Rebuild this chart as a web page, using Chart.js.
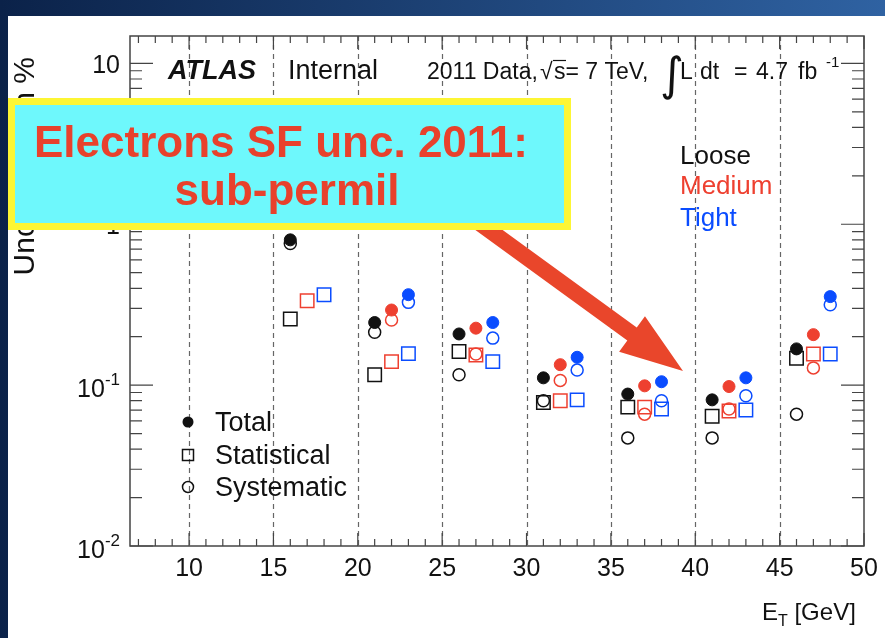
<!DOCTYPE html>
<html><head><meta charset="utf-8">
<script src="https://cdn.jsdelivr.net/npm/chart.js@4/dist/chart.umd.min.js"></script>
<style>
html,body{margin:0;padding:0;background:#fff}
canvas{display:block}
</style></head><body>
<canvas id="c" width="885" height="638"></canvas>
<script>
// ET bin centres, shifted by 1 GeV per menu so the markers do not overlap
const etLoose  = [16, 21, 26, 31, 36, 41, 46]
const etMedium = [17, 22, 27, 32, 37, 42, 47]
const etTight  = [18, 23, 28, 33, 38, 43, 48]

// uncertainties in % (15-20 GeV medium/tight total+syst are hidden under the box)
const looseTotal  = [0.80, 0.245, 0.208, 0.111, 0.088, 0.081, 0.168]
const looseStat   = [0.258, 0.116, 0.162, 0.078, 0.073, 0.064, 0.147]
const looseSyst   = [0.76, 0.213, 0.116, 0.080, 0.047, 0.047, 0.066]
const mediumTotal = [null, 0.293, 0.226, 0.134, 0.099, 0.098, 0.206]
const mediumStat  = [0.335, 0.140, 0.154, 0.080, 0.073, 0.069, 0.156]
const mediumSyst  = [null, 0.254, 0.156, 0.107, 0.066, 0.071, 0.128]
const tightTotal  = [null, 0.365, 0.245, 0.149, 0.105, 0.111, 0.355]
const tightStat   = [0.365, 0.157, 0.140, 0.081, 0.071, 0.070, 0.156]
const tightSyst   = [null, 0.327, 0.196, 0.124, 0.080, 0.086, 0.316]

const xTickValues = [10, 15, 20, 25, 30, 35, 40, 45, 50]
const yTickValues = [0.01, 0.1, 1, 10]
const yTickLabels = [['10','-2'], ['10','-1'], ['1',''], ['10','']]

const BLACK = '#111', RED = '#ee4030', BLUE = '#0a4cff'
const FONT = '"Liberation Sans", Arial, Helvetica, sans-serif'

function pts(xs, ys){ return xs.map((x,i)=>({x, y: ys[i]})).filter(p=>p.y!=null) }

function total(xs, ys, c){ return {data: pts(xs,ys), pointStyle:'circle', pointRadius:6, backgroundColor:c, borderColor:c, borderWidth:1} }
function stat(xs, ys, c){ return {data: pts(xs,ys), pointStyle:'rect', pointRadius:9.5, backgroundColor:'rgba(0,0,0,0)', borderColor:c, borderWidth:1.5} }
function syst(xs, ys, c){ return {data: pts(xs,ys), pointStyle:'circle', pointRadius:6, backgroundColor:'rgba(0,0,0,0)', borderColor:c, borderWidth:1.5} }

function supText(ctx, base, sup, xRight, baseline, size){
  ctx.font = size+'px '+FONT
  const bw = ctx.measureText(base).width
  ctx.font = Math.round(size*0.68)+'px '+FONT
  const sw = sup ? ctx.measureText(sup).width : 0
  const x0 = xRight - bw - sw
  ctx.textAlign = 'left'
  ctx.font = size+'px '+FONT
  ctx.fillText(base, x0, baseline)
  if(sup){ ctx.font = Math.round(size*0.68)+'px '+FONT; ctx.fillText(sup, x0+bw, baseline-12) }
}

const decor = {
  id: 'decor',
  beforeDraw(chart){
    const ctx = chart.ctx
    ctx.save()
    const g = ctx.createLinearGradient(0,0,885,0)
    g.addColorStop(0,'#0b2249'); g.addColorStop(1,'#2f62a2')
    ctx.fillStyle = g; ctx.fillRect(0,0,885,638)
    ctx.fillStyle = '#fff'; ctx.fillRect(8,16,877,622)
    ctx.restore()
  },
  beforeDatasetsDraw(chart){
    const ctx = chart.ctx, a = chart.chartArea, xs = chart.scales.x
    ctx.save()
    ctx.strokeStyle = '#666'; ctx.lineWidth = 1.2; ctx.setLineDash([5,4])
    xTickValues.slice(0,-1).forEach(v=>{
      const px = Math.round(xs.getPixelForValue(v))+0.5
      ctx.beginPath(); ctx.moveTo(px,a.top); ctx.lineTo(px,a.bottom); ctx.stroke()
    })
    ctx.restore()
  },
  afterDatasetsDraw(chart){
    const ctx = chart.ctx, a = chart.chartArea, xs = chart.scales.x, ys = chart.scales.y
    ctx.save()
    // frame + inward ticks
    ctx.strokeStyle = '#444'; ctx.lineWidth = 1.5
    ctx.strokeRect(a.left, a.top, a.right-a.left, a.bottom-a.top)
    ctx.lineWidth = 1.2
    ctx.beginPath()
    for(let v=7; v<=50; v++){
      const px = xs.getPixelForValue(v), len = v%5===0 ? 13 : 7
      ctx.moveTo(px,a.bottom); ctx.lineTo(px,a.bottom-len)
      ctx.moveTo(px,a.top); ctx.lineTo(px,a.top+len)
    }
    for(let d=-2; d<=1; d++){
      for(let k=1; k<=9; k++){
        const v = k*Math.pow(10,d)
        if(v>ys.max) continue
        const py = ys.getPixelForValue(v), len = k===1 ? 23 : 12
        ctx.moveTo(a.left,py); ctx.lineTo(a.left+len,py)
        ctx.moveTo(a.right,py); ctx.lineTo(a.right-len,py)
      }
    }
    ctx.stroke()

    // tick labels
    ctx.fillStyle = '#111'
    ctx.font = '25px '+FONT; ctx.textAlign = 'center'; ctx.textBaseline = 'alphabetic'
    xTickValues.forEach(v=> ctx.fillText(String(v), xs.getPixelForValue(v), 576))
    yTickValues.forEach((v,i)=>{
      const py = ys.getPixelForValue(v), l = yTickLabels[i]
      supText(ctx, l[0], l[1], 120, py + (l[1] ? 12 : 10), 25)
    })

    // axis titles
    ctx.font = '24px '+FONT; ctx.textAlign = 'left'
    ctx.fillText('E', 762, 620)
    let w = ctx.measureText('E').width
    ctx.font = '16px '+FONT; ctx.fillText('T', 762+w, 626)
    let w2 = ctx.measureText('T').width
    ctx.font = '24px '+FONT; ctx.fillText(' [GeV]', 762+w+w2, 620)

    ctx.save()
    ctx.translate(34, 57); ctx.rotate(-Math.PI/2)
    ctx.font = '30px '+FONT; ctx.textAlign = 'right'
    ctx.fillText('Uncertainty in %', 0, 0)
    ctx.restore()

    // ATLAS label
    ctx.textAlign = 'left'
    ctx.font = 'italic bold 27px '+FONT; ctx.fillText('ATLAS', 168, 79)
    ctx.font = '27px '+FONT; ctx.fillText('Internal', 288, 79)
    ctx.font = '23px '+FONT
    ctx.fillText('2011 Data,', 427, 79)
    ctx.fillText('\u221A', 540, 79)
    ctx.fillText('s= 7 TeV,', 554, 79)
    ctx.lineWidth = 1.2; ctx.strokeStyle = '#111'
    ctx.beginPath(); ctx.moveTo(553,60.5); ctx.lineTo(566,60.5); ctx.stroke()
    ctx.font = '46px "DejaVu Sans", sans-serif'
    ctx.fillText('\u222B', 660, 90)
    ctx.font = '23px '+FONT
    ctx.fillText('L', 680, 79); ctx.fillText('dt', 700, 79); ctx.fillText('=', 734, 79)
    ctx.fillText('4.7', 756, 79); ctx.fillText('fb', 798, 79)
    ctx.font = '15px '+FONT; ctx.fillText('-1', 826, 67)

    // menu legend
    ctx.font = '26px '+FONT
    ctx.fillStyle = BLACK; ctx.fillText('Loose', 680, 164)
    ctx.fillStyle = RED; ctx.fillText('Medium', 680, 194)
    ctx.fillStyle = BLUE; ctx.fillText('Tight', 680, 226)

    // marker legend
    const lx = 188
    ctx.fillStyle = BLACK; ctx.strokeStyle = BLACK; ctx.lineWidth = 1.5
    ctx.beginPath(); ctx.arc(lx, 422, 5.5, 0, 2*Math.PI); ctx.fill()
    ctx.strokeRect(lx-5.5, 449.5, 11, 11)
    ctx.beginPath(); ctx.arc(lx, 487, 5.5, 0, 2*Math.PI); ctx.stroke()
    ctx.font = '27px '+FONT
    ctx.fillText('Total', 215, 431)
    ctx.fillText('Statistical', 215, 464)
    ctx.fillText('Systematic', 215, 496)

    // arrow
    const S = [478,222], T = [683,371]
    const dx = T[0]-S[0], dy = T[1]-S[1], L = Math.hypot(dx,dy)
    const u = [dx/L, dy/L], n = [-u[1], u[0]]
    const B = [T[0]-63*u[0], T[1]-63*u[1]]
    const P = (p,k)=>[p[0]+k*n[0], p[1]+k*n[1]]
    const poly = [P(S,8), P(B,8), P(B,22), T, P(B,-22), P(B,-8), P(S,-8)]
    ctx.fillStyle = '#e9462b'
    ctx.beginPath(); poly.forEach((p,i)=> i ? ctx.lineTo(p[0],p[1]) : ctx.moveTo(p[0],p[1])); ctx.closePath(); ctx.fill()

    // callout box
    ctx.fillStyle = '#fdf634'; ctx.fillRect(8, 98, 563, 132)
    ctx.fillStyle = '#6ef8fc'; ctx.fillRect(15, 105, 549, 118)
    ctx.fillStyle = '#e8412c'; ctx.font = 'bold 44px '+FONT; ctx.textAlign = 'center'
    ctx.fillText('Electrons SF unc. 2011:', 281, 157)
    ctx.fillText('sub-permil', 287, 205)
    ctx.restore()
  }
}

new Chart(document.getElementById('c'), {
  type: 'scatter',
  data: { datasets: [
    total(etLoose, looseTotal, BLACK), total(etMedium, mediumTotal, RED), total(etTight, tightTotal, BLUE),
    syst(etLoose, looseSyst, BLACK), syst(etMedium, mediumSyst, RED), syst(etTight, tightSyst, BLUE),
    stat(etLoose, looseStat, BLACK), stat(etMedium, mediumStat, RED), stat(etTight, tightStat, BLUE)
  ]},
  options: {
    responsive: false, animation: false,
    layout: { padding: { left: 130, right: 21, top: 36, bottom: 92 } },
    plugins: { legend: { display: false }, tooltip: { enabled: false } },
    scales: {
      x: { type: 'linear', min: 6.5, max: 50, display: false },
      y: { type: 'logarithmic', min: 0.01, max: 14.8, display: false }
    }
  },
  plugins: [decor]
})
</script>
</body></html>
